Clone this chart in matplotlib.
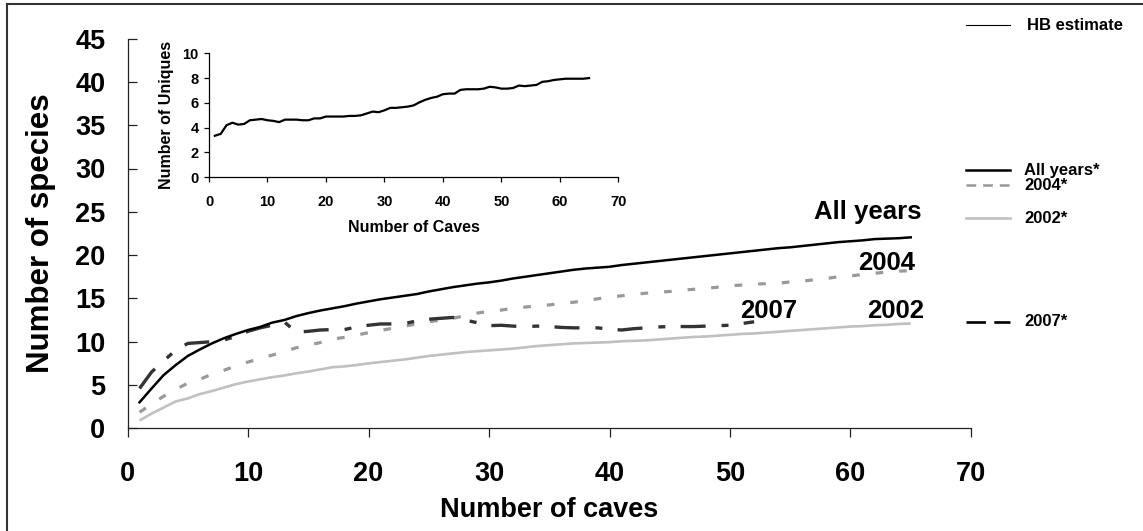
import matplotlib
matplotlib.use("Agg")
import matplotlib.pyplot as plt
from matplotlib.lines import Line2D

plt.rcParams['font.family'] = ['Liberation Sans', 'DejaVu Sans']
plt.rcParams['font.weight'] = 'bold'
plt.rcParams['lines.scale_dashes'] = False

# ---- data -----------------------------------------------------------------
caves = list(range(1, 66))
caves_2007 = list(range(1, 53))

all_years = [3.0, 4.6, 6.15, 7.3, 8.35, 9.1, 9.8, 10.4, 10.9, 11.35,
             11.7, 12.2, 12.5, 12.95, 13.3, 13.6, 13.85, 14.1, 14.4, 14.65,
             14.9, 15.1, 15.3, 15.5, 15.8, 16.05, 16.3, 16.5, 16.7, 16.85,
             17.05, 17.3, 17.5, 17.7, 17.9, 18.1, 18.3, 18.45, 18.55, 18.65,
             18.85, 19.0, 19.15, 19.3, 19.45, 19.6, 19.75, 19.9, 20.05, 20.2,
             20.35, 20.5, 20.65, 20.8, 20.9, 21.05, 21.2, 21.35, 21.5, 21.6,
             21.7, 21.85, 21.9, 21.95, 22.05]

y2004 = [1.85, 2.8, 3.7, 4.5, 5.2, 5.65, 6.25, 6.7, 7.2, 7.65,
         8.05, 8.45, 8.85, 9.3, 9.6, 9.9, 10.3, 10.5, 10.75, 11.05,
         11.3, 11.55, 11.8, 12.05, 12.3, 12.5, 12.7, 13.0, 13.3, 13.5,
         13.65, 13.85, 14.0, 14.15, 14.25, 14.4, 14.55, 14.75, 14.95, 15.15,
         15.3, 15.45, 15.6, 15.7, 15.8, 15.95, 16.05, 16.15, 16.3, 16.45,
         16.55, 16.65, 16.7, 16.75, 16.9, 17.0, 17.15, 17.3, 17.5, 17.6,
         17.75, 17.9, 18.05, 18.15, 18.2]

y2002 = [0.9, 1.7, 2.4, 3.1, 3.45, 3.95, 4.3, 4.7, 5.1, 5.4,
         5.65, 5.9, 6.1, 6.35, 6.55, 6.8, 7.05, 7.15, 7.3, 7.5,
         7.65, 7.8, 7.95, 8.15, 8.35, 8.5, 8.65, 8.8, 8.9, 9.0,
         9.1, 9.2, 9.35, 9.5, 9.6, 9.7, 9.8, 9.85, 9.9, 9.95,
         10.05, 10.1, 10.15, 10.25, 10.35, 10.45, 10.55, 10.6, 10.7, 10.8,
         10.9, 10.95, 11.05, 11.15, 11.25, 11.35, 11.45, 11.55, 11.65, 11.75,
         11.8, 11.9, 11.95, 12.05, 12.1]

y2007 = [4.6, 6.5, 7.8, 9.0, 9.8, 9.9, 10.0, 10.2, 10.6, 11.2,
         11.6, 11.9, 12.3, 11.1, 11.2, 11.35, 11.4, 11.4, 11.7, 11.9,
         12.05, 12.05, 12.1, 12.4, 12.6, 12.7, 12.8, 12.5, 12.2, 11.85,
         11.9, 11.8, 11.75, 11.8, 11.75, 11.65, 11.6, 11.6, 11.6, 11.45,
         11.35, 11.5, 11.6, 11.7, 11.75, 11.75, 11.75, 11.8, 11.85, 11.9,
         12.1, 12.3]

uniques = [3.35, 3.5, 4.2, 4.4, 4.25, 4.3, 4.6, 4.65, 4.7, 4.6,
           4.55, 4.45, 4.65, 4.65, 4.65, 4.6, 4.6, 4.75, 4.75, 4.9,
           4.9, 4.9, 4.9, 4.95, 4.95, 5.0, 5.15, 5.3, 5.25, 5.4,
           5.6, 5.6, 5.65, 5.7, 5.8, 6.05, 6.25, 6.4, 6.5, 6.7,
           6.75, 6.75, 7.05, 7.1, 7.1, 7.1, 7.15, 7.3, 7.25, 7.15,
           7.15, 7.2, 7.4, 7.35, 7.4, 7.45, 7.7, 7.75, 7.85, 7.9,
           7.95, 7.95, 7.95, 7.95, 8.0]

main_xticks = [0, 10, 20, 30, 40, 50, 60, 70]
main_yticks = [0, 5, 10, 15, 20, 25, 30, 35, 40, 45]
inset_xticks = [0, 10, 20, 30, 40, 50, 60, 70]
inset_yticks = [0, 2, 4, 6, 8, 10]

# ---- figure ---------------------------------------------------------------
W, H = 1143, 531
fig = plt.figure(figsize=(W / 100, H / 100), dpi=100)

ax = fig.add_axes([127.5 / W, 1 - 428.3 / H, 843.5 / W, 389.7 / H])
ax.set_facecolor('none')

ax.plot(caves, y2002, color='#c0c0c0', lw=1.9, solid_capstyle='butt')
ax.plot(caves, y2004, color='#999999', lw=2.3, dashes=(5.5, 11.5))
ax.plot(caves_2007, y2007, color='#333333', lw=2.4, dashes=(18, 11.5, 5, 11))
ax.plot(caves, all_years, color='black', lw=1.8)

ax.set_xlim(0, 70)
ax.set_ylim(0, 45)
ax.set_xticks(main_xticks)
ax.set_yticks(main_yticks)
for s in ('top', 'right'):
    ax.spines[s].set_visible(False)
for s in ('left', 'bottom'):
    ax.spines[s].set_linewidth(0.9)
    ax.spines[s].set_color('#222222')
ax.tick_params(axis='x', direction='out', length=6.5, width=0.9,
               pad=17, labelsize=19.5, color='#222222')
ax.tick_params(axis='y', direction='in', length=6.5, width=0.9,
               pad=16, labelsize=19.5, color='#222222')
for lab in ax.get_xticklabels() + ax.get_yticklabels():
    lab.set_fontweight('bold')

ax.set_xlabel('Number of caves', fontsize=19.5, fontweight='bold', va='top')
ax.xaxis.set_label_coords(0.5, -0.176)
ax.set_ylabel('Number of species', fontsize=22.5, fontweight='bold', va='center')
ax.yaxis.set_label_coords(-0.102, 0.5)

# series names at the line ends
lab_kw = dict(fontsize=18.5, fontweight='bold', ha='right', va='baseline')
ax.text(65.9, 24.2, 'All years', **lab_kw)
ax.text(65.35, 18.3, '2004', **lab_kw)
ax.text(55.6, 12.7, '2007', **lab_kw)
ax.text(66.1, 12.7, '2002', **lab_kw)

# ---- inset: uniques -------------------------------------------------------
ins = fig.add_axes([209 / W, 1 - 177.3 / H, 409.3 / W, 124 / H])
ins.set_facecolor('none')
ins.plot(caves, uniques, color='black', lw=1.6)
ins.set_xlim(0, 70)
ins.set_ylim(0, 10)
ins.set_xticks(inset_xticks)
ins.set_yticks(inset_yticks)
for s in ('top', 'right'):
    ins.spines[s].set_visible(False)
for s in ('left', 'bottom'):
    ins.spines[s].set_linewidth(0.9)
ins.tick_params(axis='both', direction='out', length=3.5, width=0.9,
                labelsize=10.5)
ins.tick_params(axis='x', pad=9)
ins.tick_params(axis='y', pad=4)
for lab in ins.get_xticklabels() + ins.get_yticklabels():
    lab.set_fontweight('bold')
ins.set_xlabel('Number of Caves', fontsize=11.5, fontweight='bold', va='top')
ins.xaxis.set_label_coords(0.5, -0.344)
ins.set_ylabel('Number of Uniques', fontsize=11.5, fontweight='bold', va='center')
ins.yaxis.set_label_coords(-0.105, 0.5)

# ---- key on the right -----------------------------------------------------
def key(y_px, label, x_text, **line_kw):
    fig.add_artist(Line2D([966 / W, 1010 / W], [1 - y_px / H, 1 - y_px / H],
                          transform=fig.transFigure, **line_kw))
    fig.text(x_text / W, 1 - y_px / H, label, fontsize=12, fontweight='bold',
             ha='left', va='center')

key(25, 'HB estimate', 1027, color='black', lw=0.8)
key(170, 'All years*', 1024, color='black', lw=1.8)
key(185, '2004*', 1024, color='#999999', lw=1.8, dashes=(7, 5))
key(218, '2002*', 1024, color='#c0c0c0', lw=1.9)
key(322, '2007*', 1024, color='black', lw=1.9, dashes=(14, 6))

# outer frame (left and top edges)
fig.add_artist(Line2D([7 / W, 7 / W], [0, 1 - 4 / H], transform=fig.transFigure,
                      color='#333333', lw=1.5))
fig.add_artist(Line2D([7 / W, 1], [1 - 4 / H, 1 - 4 / H], transform=fig.transFigure,
                      color='#333333', lw=1.5))

fig.savefig('out.png', dpi=100)
